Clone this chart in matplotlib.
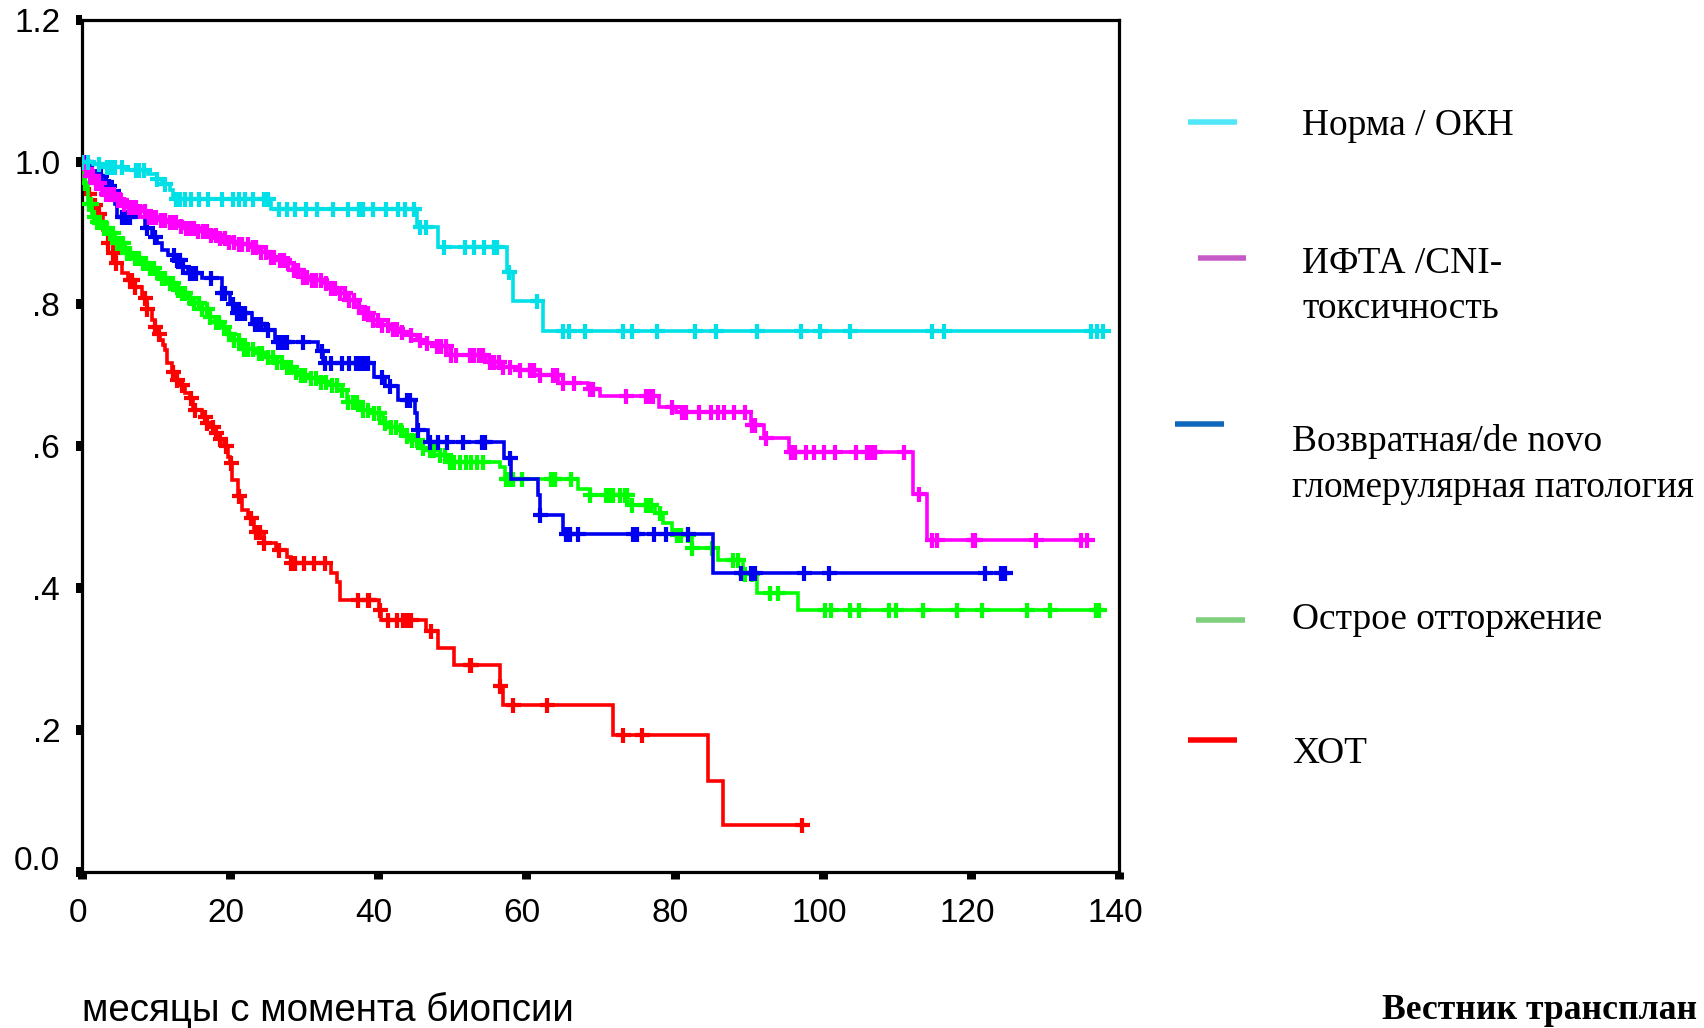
import numpy as np
import matplotlib
matplotlib.use("Agg")
import matplotlib.pyplot as plt
from matplotlib.transforms import ScaledTranslation
from matplotlib.lines import Line2D

# ---------------- data ----------------
cyan_t = [0, 1.5, 3.5, 6.0, 9.0, 10.2, 10.8, 12.0, 12.4, 25.6, 45.3, 48.1, 57.4, 58.2, 62.3]
cyan_s = [1.0, 0.997, 0.992, 0.988, 0.983, 0.975, 0.969, 0.96, 0.947, 0.933, 0.908, 0.880, 0.845, 0.804, 0.762]
cyan_end = 137.8
cyan_c = [0.1, 0.9, 2.4, 3.5, 4.0, 4.5, 5.5, 7.3, 7.8, 8.4, 10.2, 11.2, 12.8, 13.3, 14.0, 14.8, 15.9,
          17.1, 18.9, 20.5, 21.3, 22.0, 23.1, 24.6, 25.1, 26.7, 27.7, 28.8, 30.3, 31.8, 33.9, 36.0,
          37.5, 38.0, 39.3, 41.1, 42.7, 43.7, 44.8, 45.7, 46.5, 48.9, 51.7, 53.0, 54.3, 55.6, 56.1,
          57.7, 61.5, 65.0, 65.8, 67.9, 73.0, 74.2, 77.6, 82.7, 85.6, 91.1, 97.0, 99.6, 103.7,
          114.7, 116.4, 136.2, 137.0, 137.8]

mag_t = [0, 0.5, 1.0, 1.8, 2.5, 3.2, 4.5, 5.5, 6.3, 7.5, 9.0, 10.5, 11.7, 13.0, 14.0, 15.5, 17.0,
         18.5, 19.8, 21.0, 22.5, 24.0, 25.2, 26.3, 27.4, 28.5, 29.7, 31.0, 32.4, 33.5, 34.6, 35.8,
         36.9, 38.0, 39.1, 40.5, 42.0, 43.0, 44.0, 45.2, 46.5, 47.9, 49.7, 54.5, 56.4, 59.1, 61.8,
         64.3, 68.3, 69.9, 77.9, 80.2, 90.3, 92.1, 95.5, 112.2, 114.0]
mag_s = [1.0, 0.99, 0.98, 0.97, 0.962, 0.955, 0.946, 0.940, 0.936, 0.930, 0.922, 0.918, 0.915,
         0.910, 0.906, 0.902, 0.897, 0.892, 0.887, 0.884, 0.880, 0.873, 0.866, 0.862, 0.857, 0.848,
         0.838, 0.833, 0.829, 0.822, 0.815, 0.805, 0.796, 0.787, 0.777, 0.770, 0.765, 0.760, 0.756,
         0.749, 0.745, 0.740, 0.728, 0.718, 0.711, 0.707, 0.700, 0.688, 0.680, 0.670, 0.655, 0.648,
         0.629, 0.611, 0.592, 0.533, 0.467]
mag_end = 135.6
mag_c = [0.2, 0.6, 1.1, 1.5, 1.9, 2.4, 2.8, 3.3, 3.9, 4.4, 4.9, 5.3, 5.8, 6.4, 6.9, 7.3, 7.9, 8.5,
         9.1, 9.6, 10.0, 10.7, 11.2, 11.9, 12.3, 12.8, 13.4, 14.1, 14.6, 15.2, 15.7, 16.4, 16.9,
         17.5, 18.2, 18.7, 19.3, 19.9, 20.6, 21.2, 21.7, 22.4, 23.1, 23.6, 24.2, 24.9, 25.5, 26.0,
         26.8, 27.3, 27.9, 28.6, 29.2, 29.9, 30.4, 31.1, 31.7, 32.3, 33.0, 33.6, 34.2, 34.9, 35.5,
         36.1, 36.8, 37.4, 38.1, 38.6, 39.3, 40.0, 40.6, 41.3, 42.0, 42.6, 43.2, 44.5, 45.6, 46.6,
         47.9, 48.5, 49.2, 49.8, 50.5, 52.4, 53.0, 53.6, 54.2, 55.1, 55.7, 56.3, 56.9, 57.8, 59.1,
         60.5, 61.1, 61.8, 63.6, 64.2, 65.0, 66.5, 68.6, 69.0, 73.4, 76.1, 76.6, 77.1, 79.7, 81.0,
         81.6, 83.3, 84.9, 85.9, 86.7, 88.0, 89.5, 90.5, 90.8, 92.3, 95.7, 96.0, 96.2, 97.7, 98.8,
         100.1, 101.6, 104.5, 106.0, 106.5, 107.0, 110.9, 113.0, 114.7, 115.4, 120.2, 120.5,
         128.7, 134.9, 135.6]

blue_t = [0, 1.1, 1.8, 2.7, 3.6, 4.1, 4.5, 4.8, 8.6, 9.5, 10.2, 10.8, 11.7, 12.6, 13.5, 14.4,
          16.2, 18.9, 20.0, 21.0, 23.0, 24.8, 26.1, 31.9, 32.6, 39.4, 40.9, 42.7, 45.0, 45.3, 46.8,
          57.0, 57.9, 61.6, 61.8, 65.0, 85.2]
blue_s = [1.0, 0.986, 0.98, 0.972, 0.966, 0.958, 0.94, 0.922, 0.906, 0.894, 0.885, 0.876, 0.868,
          0.861, 0.852, 0.843, 0.836, 0.815, 0.80, 0.787, 0.772, 0.763, 0.746, 0.733, 0.716, 0.697,
          0.684, 0.664, 0.646, 0.622, 0.605, 0.583, 0.554, 0.531, 0.503, 0.476, 0.421]
blue_end = 124.6
blue_c = [0.2, 0.6, 1.4, 2.0, 2.6, 3.3, 3.7, 4.2, 5.4, 5.8, 6.2, 6.6, 8.8, 9.9, 12.5, 12.9, 13.3,
          13.7, 14.6, 15.0, 15.5, 17.5, 18.9, 19.4, 20.5, 21.0, 21.5, 22.0, 23.4, 23.8, 24.2, 25.2,
          26.5, 26.9, 27.3, 27.7, 29.9, 32.4, 32.9, 33.7, 35.2, 36.1, 37.0, 37.6, 38.1, 38.7, 40.5,
          41.6, 43.9, 44.3, 45.4, 47.0, 48.1, 49.3, 51.5, 54.0, 54.4, 57.8, 61.8, 65.4, 65.9, 67.0,
          74.4, 74.9, 77.2, 78.8, 81.8, 89.0, 90.3, 90.8, 97.5, 100.9, 121.9, 124.0, 124.6]

green_t = [0, 0.3, 0.9, 1.4, 1.8, 2.7, 3.6, 4.5, 5.9, 7.0, 8.1, 9.0, 9.9, 10.8, 11.7, 12.6, 13.5,
           14.2, 14.9, 16.0, 17.1, 18.0, 18.9, 19.6, 20.3, 21.6, 23.8, 25.0, 26.1, 27.3, 28.4, 29.5,
           30.6, 32.0, 33.3, 34.5, 35.8, 37.6, 39.4, 40.7, 41.6, 42.5, 43.4, 44.3, 45.7, 47.0, 48.4,
           49.3, 56.5, 57.1, 67.0, 68.6, 73.7, 77.4, 78.4, 79.7, 80.1, 82.3, 85.9, 89.3, 91.1, 96.6]
green_s = [1.0, 0.97, 0.94, 0.922, 0.915, 0.906, 0.899, 0.885, 0.871, 0.864, 0.857, 0.850, 0.843,
           0.836, 0.829, 0.820, 0.815, 0.808, 0.801, 0.792, 0.782, 0.775, 0.768, 0.758, 0.749,
           0.737, 0.731, 0.725, 0.718, 0.711, 0.704, 0.700, 0.695, 0.690, 0.686, 0.679, 0.662,
           0.650, 0.646, 0.632, 0.627, 0.622, 0.614, 0.608, 0.597, 0.594, 0.587, 0.578, 0.571,
           0.554, 0.540, 0.531, 0.517, 0.505, 0.491, 0.482, 0.474, 0.456, 0.440, 0.420, 0.393, 0.369]
green_end = 137.3
green_c = [0.2, 0.5, 1.0, 1.3, 1.7, 2.1, 2.5, 3.0, 3.4, 3.9, 4.2, 4.8, 5.2, 5.6, 6.2, 6.6, 7.2,
           7.7, 8.3, 8.7, 9.3, 9.8, 10.3, 10.9, 11.3, 11.9, 12.4, 13.0, 13.6, 14.0, 14.6, 15.2,
           15.8, 16.3, 16.9, 17.4, 18.1, 18.6, 19.2, 19.9, 20.6, 21.3, 21.9, 22.5, 23.2, 23.9,
           24.4, 25.1, 25.8, 26.4, 27.0, 27.7, 28.2, 28.9, 29.6, 30.2, 30.9, 31.6, 32.3, 33.0,
           33.8, 34.4, 35.1, 35.9, 36.6, 37.2, 38.0, 38.7, 39.5, 40.2, 40.9, 41.8, 42.4, 43.1,
           43.9, 44.6, 45.3, 46.1, 47.0, 47.6, 48.4, 49.0, 49.7, 50.3, 51.0, 51.9, 52.6, 53.3,
           54.2, 57.3, 57.6, 58.0, 58.2, 59.4, 63.4, 63.7, 63.9, 66.1, 68.6, 70.8, 71.3, 71.7,
           72.6, 73.3, 73.6, 74.2, 76.2, 76.5, 76.8, 78.1, 80.3, 80.9, 81.8, 82.3, 85.0, 87.9,
           88.6, 89.5, 90.5, 92.9, 94.0, 100.3, 101.1, 103.7, 104.9, 108.9, 109.9, 113.5, 118.1,
           121.5, 127.5, 130.7, 136.8, 137.3]

red_t = [0, 0.3, 0.5, 1.1, 1.8, 2.3, 2.9, 3.6, 4.3, 4.7, 5.4, 6.3, 7.0, 8.1, 8.8, 9.5, 9.9, 10.4,
         10.6, 11.0, 11.3, 11.5, 12.2, 12.6, 13.1, 14.0, 14.6, 15.1, 16.2, 16.9, 17.3, 18.0, 18.6,
         19.2, 19.8, 20.0, 20.3, 21.1, 21.6, 22.5, 23.3, 24.6, 26.2, 27.7, 28.2, 33.7, 34.4, 34.9,
         40.1, 40.4, 46.5, 48.1, 50.3, 56.5, 56.9, 71.7, 84.5, 86.6]
red_s = [1.0, 0.975, 0.955, 0.946, 0.939, 0.927, 0.904, 0.885, 0.871, 0.857, 0.843, 0.833, 0.824,
         0.808, 0.792, 0.777, 0.768, 0.758, 0.749, 0.742, 0.735, 0.716, 0.704, 0.693, 0.686, 0.674,
         0.667, 0.650, 0.641, 0.632, 0.627, 0.618, 0.610, 0.600, 0.585, 0.576, 0.552, 0.529, 0.510,
         0.498, 0.479, 0.463, 0.454, 0.444, 0.435, 0.421, 0.409, 0.383, 0.369, 0.355, 0.340, 0.315,
         0.291, 0.262, 0.236, 0.193, 0.129, 0.066]
red_end = 97.2
red_c = [1.0, 1.8, 2.3, 3.6, 4.3, 4.7, 6.5, 6.8, 7.2, 8.5, 8.9, 9.9, 10.4, 12.4, 12.9, 13.5, 14.8,
         15.3, 16.6, 16.9, 17.7, 18.2, 18.7, 19.5, 20.2, 21.3, 22.8, 23.6, 24.1, 24.6, 26.7, 28.2,
         28.8, 30.0, 31.3, 32.9, 37.3, 38.6, 38.8, 40.3, 41.4, 42.5, 43.4, 43.9, 44.5, 47.2, 52.4,
         52.6, 56.5, 58.2, 62.8, 73.0, 75.6, 97.2]

group_labels = [["Норма / ОКН"], ["ИФТА /CNI-", "токсичность"],
                ["Возвратная/de novo", "гломерулярная патология"],
                ["Острое отторжение"], ["ХОТ"]]
x_ticks = [0, 20, 40, 60, 80, 100, 120, 140]
y_ticks = [0.0, 0.2, 0.4, 0.6, 0.8, 1.0, 1.2]
y_ticklabels = ["0.0", ".2", ".4", ".6", ".8", "1.0", "1.2"]
x_label = "месяцы с момента биопсии"
footer = "Вестник трансплан"

# ---------------- figure ----------------
W, H = 1704, 1028
PX = 72 / 100.0
fig = plt.figure(figsize=(W / 100, H / 100), dpi=100)
fx = lambda X: X / W
fy = lambda Y: 1 - Y / H

ax = fig.add_axes([fx(81.5), fy(872.3), fx(1119.3) - fx(81.5), fy(19.5) - fy(872.3)])
ax.set_xlim(0, 140)
ax.set_ylim(0, 1.2)
for sp in ax.spines.values():
    sp.set_linewidth(3.2 * PX)
    sp.set_color("black")


def km(t, s, t_end, cens, color, z):
    t = np.asarray(t, float)
    s = np.asarray(s, float)
    tt = np.r_[t, t_end]
    ss = np.r_[s, s[-1]]
    ax.step(tt, ss, where="post", color=color, lw=3.6 * PX, zorder=z,
            solid_joinstyle="miter", solid_capstyle="butt")
    c = np.asarray(cens, float)
    idx = np.searchsorted(t, c, side="right") - 1
    ax.plot(c, s[idx], ls="none", marker="+", ms=15 * PX, mew=4.2 * PX, color=color, zorder=z)


km(red_t, red_s, red_end, red_c, "#FF0000", 2)
km(green_t, green_s, green_end, green_c, "#00FF00", 3)
km(blue_t, blue_s, blue_end, blue_c, "#0000F0", 4)
km(mag_t, mag_s, mag_end, mag_c, "#FF00FF", 5)
km(cyan_t, cyan_s, cyan_end, cyan_c, "#00E0E6", 6)

tick_font = "Liberation Sans"
ax.set_xticks(x_ticks)
ax.set_xticklabels([str(v) for v in x_ticks], fontfamily=tick_font, fontsize=24)
ax.set_yticks(y_ticks)
ax.set_yticklabels(y_ticklabels, fontfamily=tick_font, fontsize=24)
ax.tick_params(axis="x", direction="out", length=7 * PX, width=9 * PX, pad=13.5, color="black")
ax.tick_params(axis="y", direction="out", length=6 * PX, width=10 * PX, pad=11, color="black")

# lift the "0.0" label like in the reference
lab0 = ax.yaxis.get_major_ticks()[0].label1
lab0.set_transform(lab0.get_transform() + ScaledTranslation(0, 14 / 100, fig.dpi_scale_trans))
for tk in ax.xaxis.get_major_ticks():
    tk.label1.set_transform(tk.label1.get_transform() + ScaledTranslation(-4 / 100, 0, fig.dpi_scale_trans))

# x-axis caption, bottom left
xl = fig.text(fx(81.5), fy(1021), x_label, ha="left", va="baseline",
              fontfamily=tick_font, fontsize=24)
fig.canvas.draw()
r = fig.canvas.get_renderer()
wpx = xl.get_window_extent(r).width
xl.set_fontsize(24 * 494 / wpx)

# legend
serif = "Liberation Serif"
leg_colors = ["#50E8F8", "#C65AC6", "#0D68BC", "#7ECF7E", "#FF0000"]
leg_lines = [(1188, 1237, 122), (1198, 1246, 258), (1175, 1224, 424), (1196, 1245, 620), (1188, 1237, 740)]
leg_text = [(1302, [135]), (1302, [273, 318]), (1292, [451, 497]), (1292, [629]), (1292, [763])]

probe = fig.text(0, 0, group_labels[2][1], fontfamily=serif, fontsize=26)
fig.canvas.draw()
leg_fs = 26 * 403 / probe.get_window_extent(fig.canvas.get_renderer()).width
probe.remove()

for col, (x0, x1, yy), (tx, tys), labs in zip(leg_colors, leg_lines, leg_text, group_labels):
    fig.add_artist(Line2D([fx(x0), fx(x1)], [fy(yy), fy(yy)], transform=fig.transFigure,
                          color=col, lw=5.5 * PX, solid_capstyle="butt"))
    for ty, lab in zip(tys, labs):
        fig.text(fx(tx), fy(ty), lab, ha="left", va="baseline", fontfamily=serif, fontsize=leg_fs)

# footer (visible part of the journal name at the bottom right)
ft = fig.text(fx(1382), fy(1019), footer, ha="left", va="baseline", fontfamily=serif,
              fontweight="bold", fontsize=26)
fig.canvas.draw()
ft.set_fontsize(26 * 316 / ft.get_window_extent(fig.canvas.get_renderer()).width)

fig.savefig("out.png", dpi=100)
